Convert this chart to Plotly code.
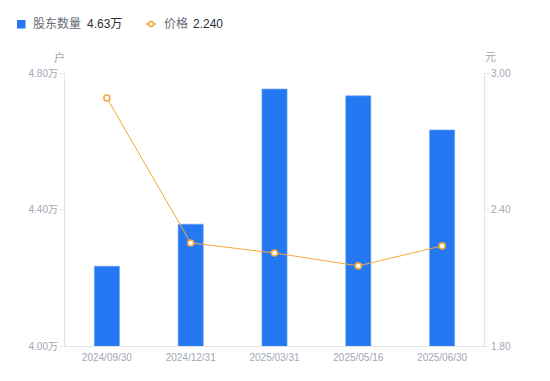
import plotly.graph_objects as go

dates = ["2024/09/30", "2024/12/31", "2025/03/31", "2025/05/16", "2025/06/30"]
holders_wan = [4.234, 4.357, 4.753, 4.733, 4.633]
price = [2.890, 2.253, 2.209, 2.152, 2.240]
left_ticks = [4.0, 4.4, 4.8]
right_ticks = [1.8, 2.4, 3.0]
series_names = ["股东数量", "价格"]
axis_units = ["户", "元"]

W, H = 550, 381
OFF = 8  # page body margin offset
ML, MR, MT, MB = 65, 66, 73, 35
PW, PH = W - ML - MR, H - MT - MB

def px(x):
    return (x - ML) / PW

def py(y):
    return (H - MB - y) / PH

BLUE = "#2478F2"
ORANGE = "#F7A83B"
GRAY = "#A3A6B4"
AXIS = "#E3E4E8"
FONT = "Liberation Sans, Noto Sans CJK SC, sans-serif"

fig = go.Figure()
fig.add_trace(go.Bar(
    x=dates, y=holders_wan, name=series_names[0], width=0.3,
    marker=dict(color=BLUE, line=dict(color="#6FA5F7", width=0.6)),
    yaxis="y",
))
fig.add_trace(go.Scatter(
    x=dates, y=price, name=series_names[1], mode="lines+markers",
    line=dict(color=ORANGE, width=1),
    marker=dict(symbol="circle", size=6, color="white",
                line=dict(color=ORANGE, width=1.6)),
    yaxis="y2",
))

fig.update_layout(
    width=W - OFF, height=H - OFF,
    margin=dict(l=ML - OFF, r=MR, t=MT - OFF, b=MB),
    paper_bgcolor="white", plot_bgcolor="white",
    showlegend=False,
    font=dict(family=FONT, size=10, color=GRAY),
    xaxis=dict(
        type="category", showline=True, linecolor=AXIS, linewidth=1,
        ticks="", showgrid=False, tickfont=dict(size=10, color=GRAY),
        ticklabelstandoff=2,
    ),
    yaxis=dict(
        range=[left_ticks[0], left_ticks[-1]], tickvals=left_ticks,
        ticktext=[f"{v:.2f}万" for v in left_ticks],
        showline=True, linecolor=AXIS, linewidth=1, ticks="outside",
        ticklen=4, tickcolor=AXIS, showgrid=False, zeroline=False,
        tickfont=dict(size=10, color=GRAY),
    ),
    yaxis2=dict(
        range=[right_ticks[0], right_ticks[-1]], tickvals=right_ticks,
        ticktext=[f"{v:.2f}" for v in right_ticks],
        overlaying="y", side="right",
        showline=True, linecolor=AXIS, linewidth=1, ticks="outside",
        ticklen=4, tickcolor=AXIS, showgrid=False, zeroline=False,
        tickfont=dict(size=10, color=GRAY),
    ),
)

# Legend (custom)
shapes = [
    dict(type="rect", xref="paper", yref="paper",
         x0=px(17), x1=px(25.5), y0=py(28.5), y1=py(20), fillcolor=BLUE,
         line=dict(width=0)),
    dict(type="line", xref="paper", yref="paper",
         x0=px(146), x1=px(156), y0=py(24), y1=py(24),
         line=dict(color=ORANGE, width=1.5)),
    dict(type="circle", xref="paper", yref="paper",
         x0=px(148.5), x1=px(153.5), y0=py(26.5), y1=py(21.5),
         fillcolor="white", line=dict(color=ORANGE, width=1.6)),
]
annotations = [
    dict(text=series_names[0], x=px(31), y=py(24), xanchor="left", yanchor="middle",
         font=dict(size=12, color="#666a75")),
    dict(text=f"{holders_wan[-1]:.2f}万", x=px(85), y=py(24), xanchor="left", yanchor="middle",
         font=dict(size=12, color="#2b2f3a")),
    dict(text=series_names[1], x=px(162), y=py(24), xanchor="left", yanchor="middle",
         font=dict(size=12, color="#666a75")),
    dict(text=f"{price[-1]:.3f}", x=px(191), y=py(24), xanchor="left", yanchor="middle",
         font=dict(size=12, color="#2b2f3a")),
    dict(text=axis_units[0], x=px(59), y=py(57), xanchor="center", yanchor="middle",
         font=dict(size=11, color=GRAY)),
    dict(text=axis_units[1], x=px(490), y=py(57), xanchor="center", yanchor="middle",
         font=dict(size=11, color=GRAY)),
]
for a in annotations:
    a.update(xref="paper", yref="paper", showarrow=False)

fig.update_layout(shapes=shapes, annotations=annotations)
fig.write_html("out.html")
